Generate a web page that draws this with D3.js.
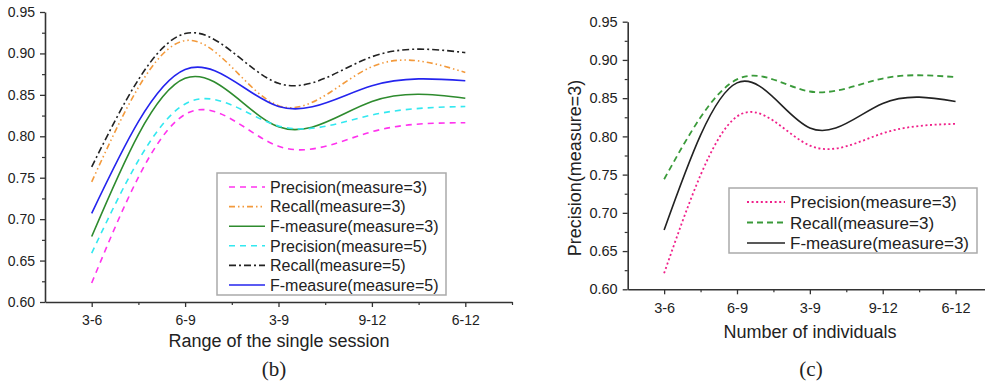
<!DOCTYPE html>
<html><head><meta charset="utf-8">
<script src="https://cdn.jsdelivr.net/npm/d3@7"></script>
<style>
body{margin:0;background:#fff}
svg{display:block}
text{font-family:"Liberation Sans",Arial,sans-serif;fill:#222}
</style>
</head><body>
<svg id="c" width="985" height="385"></svg>
<script>
// ---------- data ----------
const categories = ["3-6", "6-9", "3-9", "9-12", "6-12"];
const yTickValues = [0.60, 0.65, 0.70, 0.75, 0.80, 0.85, 0.90, 0.95];

// panel (b)
const precision3 = [0.623, 0.8265, 0.788, 0.8055, 0.8164];
const recall3    = [0.745, 0.9155, 0.837, 0.884, 0.877];
const fmeasure3  = [0.679, 0.870, 0.8115, 0.842, 0.846];
const precision5 = [0.659, 0.839, 0.8125, 0.8257, 0.836];
const recall5    = [0.763, 0.924, 0.864, 0.896, 0.901];
const fmeasure5  = [0.707, 0.8805, 0.836, 0.861, 0.867];

// panel (c)
const precisionC = [0.621, 0.826, 0.788, 0.804, 0.8164];
const recallC    = [0.744, 0.8745, 0.8587, 0.8757, 0.8775];
const fmeasureC  = [0.6776, 0.870, 0.811, 0.843, 0.8456];

const seriesB = [
  {name: "Precision(measure=3)", values: precision3, color: "#ff33ee", dash: "6,5", w: 1.6},
  {name: "Recall(measure=3)",    values: recall3,    color: "#f39a3c", dash: "6,3,1.5,3,1.5,3", w: 1.6},
  {name: "F-measure(measure=3)", values: fmeasure3,  color: "#2e8b2e", dash: null, w: 1.6},
  {name: "Precision(measure=5)", values: precision5, color: "#33e8f0", dash: "6,5", w: 1.6},
  {name: "Recall(measure=5)",    values: recall5,    color: "#222222", dash: "7,3,2,3", w: 1.6},
  {name: "F-measure(measure=5)", values: fmeasure5,  color: "#2424ee", dash: null, w: 1.6}
];
const seriesC = [
  {name: "Precision(measure=3)", values: precisionC, color: "#f0208a", dash: "2,2.6", w: 1.8},
  {name: "Recall(measure=3)",    values: recallC,    color: "#3a9a3a", dash: "6,4", w: 1.8},
  {name: "F-measure(measure=3)", values: fmeasureC,  color: "#222222", dash: null, w: 1.6}
];

const svg = d3.select("#c");

function panel(cfg) {
  const x = d3.scaleLinear().domain([0.5, 5.5]).range([cfg.x0, cfg.x1]);
  const y = d3.scaleLinear().domain([0.60, 0.95]).range([cfg.y0, cfg.y1]);
  const g = svg.append("g");

  // minor ticks
  const minorX = [1.5, 2.5, 3.5, 4.5, 5.5];
  g.append("g").attr("transform", `translate(0,${cfg.y0})`)
    .call(d3.axisBottom(x).tickValues(minorX).tickSize(3).tickFormat(""))
    .call(a => a.select(".domain").remove())
    .selectAll("line").attr("stroke", "#333").attr("stroke-width", 1.2);
  const minorY = d3.range(0, 7).map(i => 0.625 + i * 0.05);
  g.append("g").attr("transform", `translate(${cfg.x0},0)`)
    .call(d3.axisLeft(y).tickValues(minorY).tickSize(3).tickFormat(""))
    .call(a => a.select(".domain").remove())
    .selectAll("line").attr("stroke", "#333").attr("stroke-width", 1.2);

  // major axes
  const xa = g.append("g").attr("transform", `translate(0,${cfg.y0})`)
    .call(d3.axisBottom(x).tickValues([1, 2, 3, 4, 5]).tickSize(5).tickSizeOuter(0)
      .tickPadding(cfg.xpad).tickFormat((d) => categories[d - 1]));
  const ya = g.append("g").attr("transform", `translate(${cfg.x0},0)`)
    .call(d3.axisLeft(y).tickValues(yTickValues).tickSize(5).tickSizeOuter(0)
      .tickPadding(cfg.ypad).tickFormat(d3.format(".2f")));
  [xa, ya].forEach(a => {
    a.select(".domain").attr("stroke", "#333").attr("stroke-width", 1.6);
    a.selectAll(".tick line").attr("stroke", "#333").attr("stroke-width", 1.3);
    a.selectAll("text").attr("font-size", cfg.tickFont).attr("fill", "#333")
      .attr("font-family", '"Liberation Sans",Arial,sans-serif');
  });

  // lines
  const line = d3.line().x((d, i) => x(i + 1)).y(d => y(d)).curve(d3.curveNatural);
  cfg.series.forEach(s => {
    g.append("path").attr("d", line(s.values)).attr("fill", "none")
      .attr("stroke", s.color).attr("stroke-width", s.w)
      .attr("stroke-dasharray", s.dash).attr("stroke-linecap", "butt");
  });

  // legend
  const L = cfg.legend;
  g.append("rect").attr("x", L.x).attr("y", L.y).attr("width", L.w).attr("height", L.h)
    .attr("fill", "#fff").attr("stroke", "#aaa").attr("stroke-width", 1.5);
  cfg.series.forEach((s, i) => {
    const yy = L.y + L.first + i * L.step;
    g.append("line").attr("x1", L.lx0).attr("x2", L.lx1).attr("y1", yy).attr("y2", yy)
      .attr("stroke", s.color).attr("stroke-width", s.w).attr("stroke-dasharray", s.dash);
    g.append("text").attr("x", L.tx).attr("y", yy).attr("dy", "0.36em")
      .attr("font-size", L.font).text(s.name);
  });

  // labels
  g.append("text").attr("x", cfg.xlab[0]).attr("y", cfg.xlab[1]).attr("text-anchor", "middle")
    .attr("font-size", 18).text(cfg.xlabel);
  if (cfg.ylabel) {
    g.append("text").attr("transform", `translate(${cfg.ylab[0]},${cfg.ylab[1]}) rotate(-90)`)
      .attr("text-anchor", "middle").attr("dy", "0.35em").attr("font-size", 18).text(cfg.ylabel);
  }
  g.append("text").attr("x", cfg.cap[0]).attr("y", cfg.cap[1]).attr("text-anchor", "middle")
    .attr("font-size", 21)
    .style("font-family", '"Liberation Serif","Times New Roman",serif').attr("fill", "#111").text(cfg.caption);
}

panel({
  x0: 45, x1: 512, y0: 302, y1: 12, xpad: 8, ypad: 5, tickFont: 14,
  series: seriesB,
  legend: {x: 217, y: 173, w: 229, h: 122, first: 14, step: 19.6, lx0: 229, lx1: 265, tx: 270, font: 16},
  xlabel: "Range of the single session", xlab: [279, 347],
  caption: "(b)", cap: [274, 376]
});
panel({
  x0: 627.7, x1: 992, y0: 289.3, y1: 21.7, xpad: 8, ypad: 5, tickFont: 14.5,
  series: seriesC,
  legend: {x: 729, y: 188, w: 248, h: 65, first: 14, step: 20.5, lx0: 747, lx1: 785, tx: 790, font: 17},
  xlabel: "Number of individuals", xlab: [810, 338],
  ylabel: "Precision(measure=3)", ylab: [575, 168],
  caption: "(c)", cap: [811, 376]
});
</script>
</body></html>
